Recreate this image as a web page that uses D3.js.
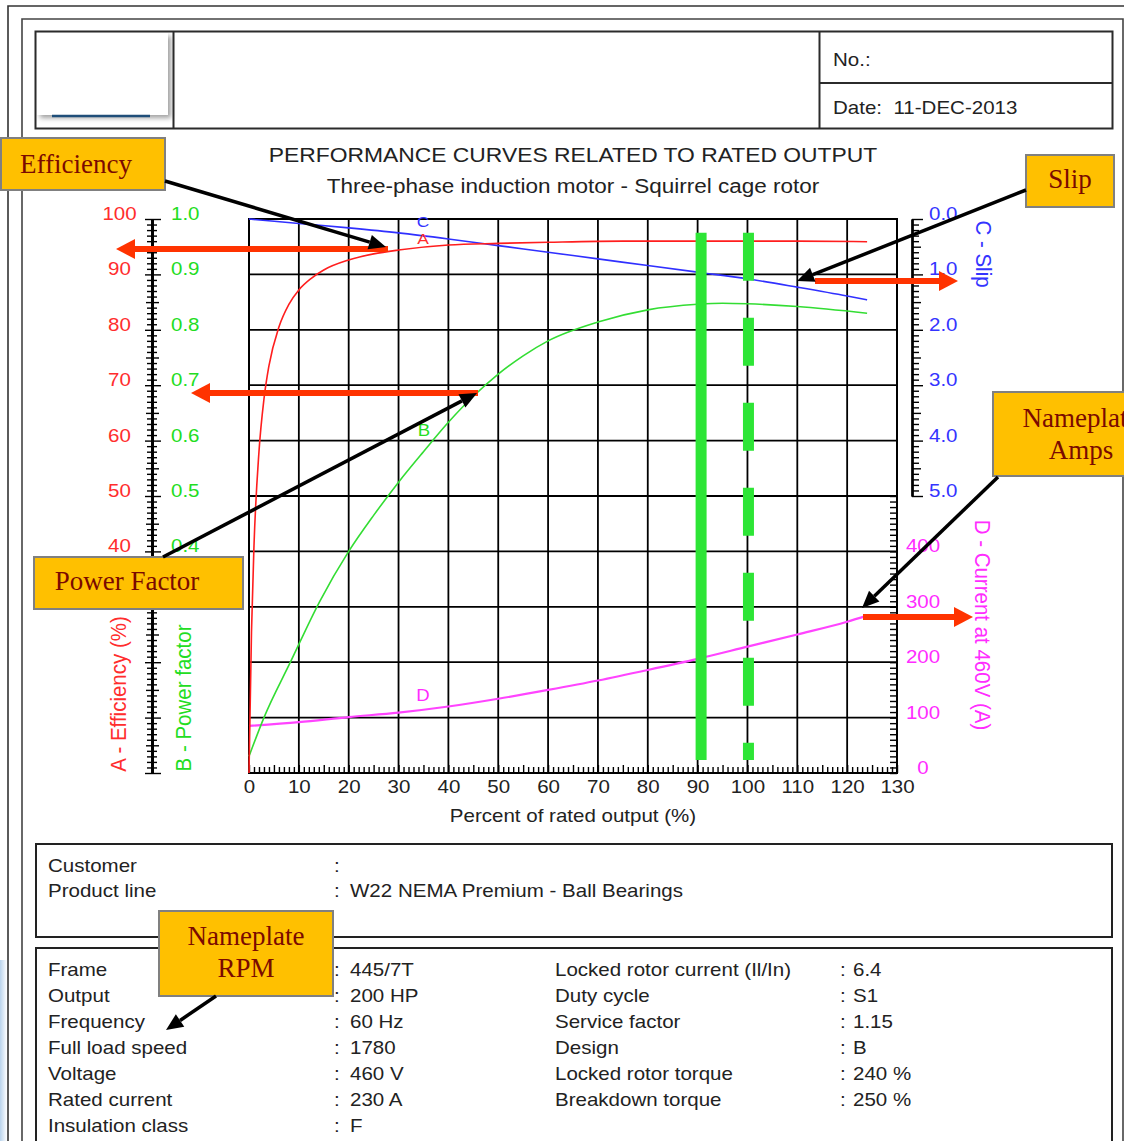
<!DOCTYPE html>
<html>
<head>
<meta charset="utf-8">
<script src="https://cdn.jsdelivr.net/npm/d3@7"></script>
<style>
  html, body { margin: 0; padding: 0; background: #fff; }
  svg { display: block; }
</style>
</head>
<body>
<script>
// ---------- curve data (percent of rated output -> value) ----------
const effLoad   = [0, 0.5, 1, 2, 3, 4, 6, 8, 10, 12.5, 15, 20, 25, 30, 40, 50, 60, 75, 90, 100, 110, 124];
const effValues = [0, 25.5, 41, 58, 67.5, 73.5, 80.5, 84.6, 87.2, 89.3, 90.8, 92.6, 93.7, 94.4, 95.3, 95.6, 95.8, 96.0, 96.0, 96.0, 96.0, 95.9];

const pfLoad   = [0, 3, 8.3, 14.2, 20, 25, 30, 35, 40, 45, 50, 55, 60, 70, 80, 90, 95, 100, 110, 124];
const pfValues = [0.03, 0.10, 0.20, 0.31, 0.40, 0.465, 0.525, 0.58, 0.633, 0.68, 0.72, 0.753, 0.78, 0.814, 0.836, 0.846, 0.848, 0.847, 0.842, 0.830];

const slipLoad   = [0, 10, 20, 30, 40, 50, 60, 70, 80, 90, 100, 110, 120, 124];
const slipValues = [0, 0.08, 0.16, 0.25, 0.36, 0.48, 0.60, 0.72, 0.84, 0.96, 1.08, 1.23, 1.39, 1.46];

const curLoad   = [0, 10, 20, 30, 40, 50, 60, 70, 80, 90, 100, 110, 120, 124];
const curValues = [85, 92, 101, 109, 120, 134, 150, 167, 186, 206, 228, 250, 273, 284];

// highlighted load levels (solid and dashed green bars)
const markerLoad = [90.7, 100.2];
const markerDash = [null, "48,37"];

// ---------- tick labels ----------
const xTickLabels = [0, 10, 20, 30, 40, 50, 60, 70, 80, 90, 100, 110, 120, 130];
const effTicks  = [40, 50, 60, 70, 80, 90, 100];
const pfTicks   = [0.4, 0.5, 0.6, 0.7, 0.8, 0.9, 1.0];
const slipTicks = [0, 1, 2, 3, 4, 5];
const curTicks  = [0, 100, 200, 300, 400];

// ---------- datasheet text ----------
const headerNo = "No.:";
const headerDate = "Date:\u00a0 11-DEC-2013";
const titleText = "PERFORMANCE CURVES RELATED TO RATED OUTPUT";
const subtitleText = "Three-phase induction motor - Squirrel cage rotor";
const custLabels = ["Customer", "Product line"];
const custValues = ["", "W22 NEMA Premium - Ball Bearings"];
const specLabels = ["Frame", "Output", "Frequency", "Full load speed", "Voltage", "Rated current", "Insulation class"];
const specValues = ["445/7T", "200 HP", "60 Hz", "1780", "460 V", "230 A", "F"];
const specLabels2 = ["Locked rotor current (Il/In)", "Duty cycle", "Service factor", "Design", "Locked rotor torque", "Breakdown torque"];
const specValues2 = ["6.4", "S1", "1.15", "B", "240 %", "250 %"];

// ---------- setup ----------
const W = 1124, H = 1141;
const SANS = "'Liberation Sans', Arial, Helvetica, sans-serif";
const SERIF = "'Liberation Serif', 'Times New Roman', serif";
const SX = 1.16;            // horizontal stretch of the sheet lettering
const RED = "#ff2d2d", GREEN = "#22dd22", BLUE = "#3434ff", MAGENTA = "#ff2cff";
const INK = "#222";

const svg = d3.select("body").append("svg").attr("width", W).attr("height", H)
  .attr("viewBox", `0 0 ${W} ${H}`);

const defs = svg.append("defs");
defs.append("filter").attr("id", "shadow").attr("x", "-10%").attr("y", "-10%").attr("width", "130%").attr("height", "140%")
  .append("feDropShadow").attr("dx", 3).attr("dy", 3).attr("stdDeviation", 2.5).attr("flood-color", "#777").attr("flood-opacity", 0.7);
const edge = defs.append("linearGradient").attr("id", "edge").attr("x1", 0).attr("x2", 1);
edge.append("stop").attr("offset", 0).attr("stop-color", "#b9d3ec");
edge.append("stop").attr("offset", 1).attr("stop-color", "#ffffff");

function label(parent, x, y, s, o = {}) {
  const sx = o.sx ?? SX;
  const tf = o.rotate
    ? `translate(${x},${y}) rotate(${o.rotate}) scale(1,${sx})`
    : `translate(${x},${y}) scale(${sx},1)`;
  const t = parent.append("text")
    .attr("transform", tf)
    .attr("font-family", o.family || SANS)
    .attr("font-size", o.size || 17.7)
    .attr("fill", o.fill || INK)
    .attr("text-anchor", o.anchor || "start")
    .text(s);
  if (o.baseline) t.attr("dominant-baseline", o.baseline);
  return t;
}

// ---------- page frame ----------
svg.append("rect").attr("x", 0).attr("y", 960).attr("width", 7).attr("height", 181).attr("fill", "url(#edge)");
svg.append("path").attr("d", "M8,1141 V6 H1124").attr("fill", "none").attr("stroke", "#333").attr("stroke-width", 1.6);
svg.append("path").attr("d", "M22,1141 V19 H1123 V1141").attr("fill", "none").attr("stroke", "#444").attr("stroke-width", 1.6);

// ---------- header block ----------
const head = svg.append("g");
head.append("rect").attr("x", 37).attr("y", 33).attr("width", 131).attr("height", 82)
  .attr("fill", "#fff").attr("filter", "url(#shadow)");
head.append("line").attr("x1", 52).attr("x2", 150).attr("y1", 116).attr("y2", 116)
  .attr("stroke", "#1f4e79").attr("stroke-width", 2.5);
head.append("rect").attr("x", 35.5).attr("y", 31.5).attr("width", 1077).attr("height", 97)
  .attr("fill", "none").attr("stroke", "#2b2b2b").attr("stroke-width", 2);
head.append("line").attr("x1", 173.5).attr("x2", 173.5).attr("y1", 31.5).attr("y2", 128.5).attr("stroke", "#2b2b2b").attr("stroke-width", 2);
head.append("line").attr("x1", 819.5).attr("x2", 819.5).attr("y1", 31.5).attr("y2", 128.5).attr("stroke", "#2b2b2b").attr("stroke-width", 2);
head.append("line").attr("x1", 819.5).attr("x2", 1112.5).attr("y1", 83).attr("y2", 83).attr("stroke", "#2b2b2b").attr("stroke-width", 2);
label(head, 833, 66, headerNo);
label(head, 833, 113.5, headerDate);

label(svg, 573, 162, titleText, { size: 19.7, anchor: "middle" });
label(svg, 573, 193, subtitleText, { size: 19.4, anchor: "middle" });

// ---------- scales ----------
const x = d3.scaleLinear().domain([0, 130]).range([249, 897]);
const yEff = d3.scaleLinear().domain([0, 100]).range([773, 219]);
const yPf = d3.scaleLinear().domain([0, 1]).range([773, 219]);
const ySlip = d3.scaleLinear().domain([0, 5]).range([219, 496]);
const yCur = d3.scaleLinear().domain([0, 1000]).range([773, 219]);

const plot = svg.append("g");

// grid
plot.append("g").selectAll("line").data(d3.range(0, 131, 10)).join("line")
  .attr("x1", d => x(d)).attr("x2", d => x(d)).attr("y1", yEff(0)).attr("y2", yEff(100))
  .attr("stroke", "#000").attr("stroke-width", 1.8);
plot.append("g").selectAll("line").data(d3.range(0, 101, 10)).join("line")
  .attr("x1", x(0)).attr("x2", x(130)).attr("y1", d => yEff(d)).attr("y2", d => yEff(d))
  .attr("stroke", "#000").attr("stroke-width", 1.8);
plot.append("rect").attr("x", x(0)).attr("y", yEff(100)).attr("width", x(130) - x(0)).attr("height", yEff(0) - yEff(100))
  .attr("fill", "none").attr("stroke", "#000").attr("stroke-width", 2);

// rulers
function ruler(g, axis, scale, vals, size) {
  g.call(axis(scale).tickValues(vals).tickSize(size).tickSizeOuter(0).tickFormat(""));
  g.selectAll(".tick line").attr("stroke", "#000").attr("stroke-width", 1.4);
  g.select(".domain").attr("stroke", "#000").attr("stroke-width", 2);
}
const pct = d3.range(0, 101);
const lr = plot.append("g").attr("transform", "translate(152,0)");
ruler(lr.append("g"), d3.axisLeft, yEff, pct.filter(d => d % 5), 5);
ruler(lr.append("g"), d3.axisRight, yEff, pct.filter(d => d % 5), 5);
ruler(lr.append("g"), d3.axisLeft, yEff, pct.filter(d => d % 5 === 0 && d % 10), 6);
ruler(lr.append("g"), d3.axisRight, yEff, pct.filter(d => d % 5 === 0 && d % 10), 7);
ruler(lr.append("g"), d3.axisLeft, yEff, pct.filter(d => d % 10 === 0), 7);
ruler(lr.append("g"), d3.axisRight, yEff, pct.filter(d => d % 10 === 0), 9);

const slipSteps = d3.range(0, 51).map(d => d / 10);
const sr = plot.append("g").attr("transform", "translate(912,0)");
ruler(sr.append("g"), d3.axisRight, ySlip, slipSteps.filter((d, i) => i % 5), 7);
ruler(sr.append("g"), d3.axisRight, ySlip, slipSteps.filter((d, i) => i % 5 === 0 && i % 10), 9);
ruler(sr.append("g"), d3.axisRight, ySlip, slipSteps.filter((d, i) => i % 10 === 0), 11);

const cr = plot.append("g").attr("transform", `translate(${x(130)},0)`);
ruler(cr, d3.axisLeft, yCur, d3.range(0, 501, 10), 7);
cr.select(".domain").remove();

const br = plot.append("g").attr("transform", `translate(0,${yEff(0)})`);
ruler(br.append("g"), d3.axisTop, x, d3.range(0, 131).filter(d => d % 5), 6);
ruler(br.append("g"), d3.axisTop, x, d3.range(0, 131).filter(d => d % 5 === 0), 8);
br.selectAll(".domain").remove();

// tick labels
const fmt1 = d3.format(".1f");
effTicks.forEach(v => label(plot, 119.5, yEff(v) + 1, String(v), { fill: RED, anchor: "middle" }));
pfTicks.forEach(v => label(plot, 171, yPf(v) + 1, fmt1(v), { fill: GREEN }));
slipTicks.forEach(v => label(plot, 929, ySlip(v) + 1, fmt1(v), { fill: BLUE }));
curTicks.forEach(v => label(plot, 923, yCur(v) + 1, String(v), { fill: MAGENTA, anchor: "middle" }));

const xa = plot.append("g").attr("transform", `translate(0,${yEff(0)})`)
  .call(d3.axisBottom(x).tickValues(xTickLabels).tickSize(0).tickPadding(0).tickFormat(d3.format("d")));
xa.select(".domain").remove();
xa.selectAll("text").attr("y", 0).attr("dy", null)
  .attr("transform", `translate(0,20) scale(${SX},1)`)
  .attr("font-family", SANS).attr("font-size", 17.7).attr("fill", INK);

// axis titles
label(plot, 573, 822, "Percent of rated output (%)", { anchor: "middle" });
label(plot, 119, 694, "A - Efficiency (%)", { rotate: -90, anchor: "middle", baseline: "central", size: 20.5, sx: 1.08, fill: RED });
label(plot, 184, 698, "B - Power factor", { rotate: -90, anchor: "middle", baseline: "central", size: 20.5, sx: 1.08, fill: GREEN });
label(plot, 983, 254, "C - Slip", { rotate: 90, anchor: "middle", baseline: "central", size: 20.5, sx: 1.08, fill: BLUE });
label(plot, 982, 625, "D - Current at 460V (A)", { rotate: 90, anchor: "middle", baseline: "central", size: 20.5, sx: 1.08, fill: MAGENTA });

// curves
function curve(loads, vals, yScale, color, width) {
  plot.append("path").datum(d3.zip(loads, vals))
    .attr("d", d3.line().curve(d3.curveMonotoneX).x(d => x(d[0])).y(d => yScale(d[1])))
    .attr("fill", "none").attr("stroke", color).attr("stroke-width", width);
}
curve(curLoad, curValues, yCur, "#ff44ff", 2.2);
curve(pfLoad, pfValues, yPf, "#33dd33", 1.6);
curve(slipLoad, slipValues, ySlip, "#3030ff", 1.6);
curve(effLoad, effValues, yEff, "#ff1e1e", 1.6);

label(plot, 423, 227, "C", { fill: BLUE, anchor: "middle", size: 15 });
label(plot, 423, 244, "A", { fill: RED, anchor: "middle", size: 15 });
label(plot, 424, 436, "B", { fill: GREEN, anchor: "middle", size: 16 });
label(plot, 423, 701, "D", { fill: MAGENTA, anchor: "middle", size: 16 });

// highlighted load bars
plot.append("g").selectAll("line").data(markerLoad).join("line")
  .attr("x1", d => x(d)).attr("x2", d => x(d))
  .attr("y1", yEff(97.5)).attr("y2", yEff(2.35))
  .attr("stroke", "#2de536").attr("stroke-width", 11)
  .attr("stroke-dasharray", (d, i) => markerDash[i]);

// ---------- bottom tables ----------
const tab = svg.append("g");
tab.append("rect").attr("x", 36).attr("y", 844).attr("width", 1076).attr("height", 93)
  .attr("fill", "none").attr("stroke", "#222").attr("stroke-width", 2);
tab.append("rect").attr("x", 36).attr("y", 948).attr("width", 1076).attr("height", 220)
  .attr("fill", "none").attr("stroke", "#222").attr("stroke-width", 2);
custLabels.forEach((s, i) => {
  const yy = 871.5 + i * 25.5;
  label(tab, 48, yy, s);
  label(tab, 334, yy, ":");
  if (custValues[i]) label(tab, 350, yy, custValues[i]);
});
specLabels.forEach((s, i) => {
  const yy = 976 + i * 26;
  label(tab, 48, yy, s);
  label(tab, 334, yy, ":");
  label(tab, 350, yy, specValues[i]);
});
specLabels2.forEach((s, i) => {
  const yy = 976 + i * 26;
  label(tab, 555, yy, s);
  label(tab, 840, yy, ":");
  label(tab, 853, yy, specValues2[i]);
});

// ---------- callouts ----------
const ann = svg.append("g");
function arrowHead(g, x1, y1, x2, y2, L, hw, color) {
  const len = Math.hypot(x2 - x1, y2 - y1), ux = (x2 - x1) / len, uy = (y2 - y1) / len;
  const bx = x2 - ux * L, by = y2 - uy * L;
  g.append("path")
    .attr("d", `M${x2},${y2} L${bx - uy * hw},${by + ux * hw} L${bx + uy * hw},${by - ux * hw} Z`)
    .attr("fill", color);
  return [bx, by];
}
function blackArrow(x1, y1, x2, y2) {
  const [bx, by] = arrowHead(ann, x1, y1, x2, y2, 17, 7.5, "#000");
  ann.append("line").attr("x1", x1).attr("y1", y1).attr("x2", bx).attr("y2", by)
    .attr("stroke", "#000").attr("stroke-width", 3.5);
}
function redArrow(x1, y1, x2, y2) {
  const [bx, by] = arrowHead(ann, x1, y1, x2, y2, 19, 10, "#ff3300");
  ann.append("line").attr("x1", x1).attr("y1", y1).attr("x2", bx).attr("y2", by)
    .attr("stroke", "#ff3300").attr("stroke-width", 6);
}
function callout(bx, by, bw, bh, lines, tx, anchor, baselines) {
  ann.append("rect").attr("x", bx).attr("y", by).attr("width", bw).attr("height", bh)
    .attr("fill", "#ffc000").attr("stroke", "#808080").attr("stroke-width", 2);
  lines.forEach((s, i) => label(ann, tx, baselines[i], s,
    { family: SERIF, size: 27, sx: 1, fill: "#7a0a00", anchor }));
}

redArrow(388, 249, 116, 249);
redArrow(478, 393, 191, 393);
redArrow(815, 281, 958, 281);
redArrow(863, 617, 973, 617);

callout(1, 138, 164, 52, ["Efficiency"], 20, "start", [172.5]);
callout(1026, 155, 88, 52, ["Slip"], 1070, "middle", [188]);
callout(34, 557, 209, 52, ["Power Factor"], 127, "middle", [590]);
callout(993, 392, 180, 84, ["Nameplate", "Amps"], 1081, "middle", [427, 459]);
callout(159, 911, 174, 85, ["Nameplate", "RPM"], 246, "middle", [945, 977]);

blackArrow(165, 181, 386, 247);
blackArrow(1026, 190, 797, 281);
blackArrow(163, 557, 477, 393);
blackArrow(998, 477, 862, 608);
blackArrow(216, 996, 166, 1030);
</script>
</body>
</html>
